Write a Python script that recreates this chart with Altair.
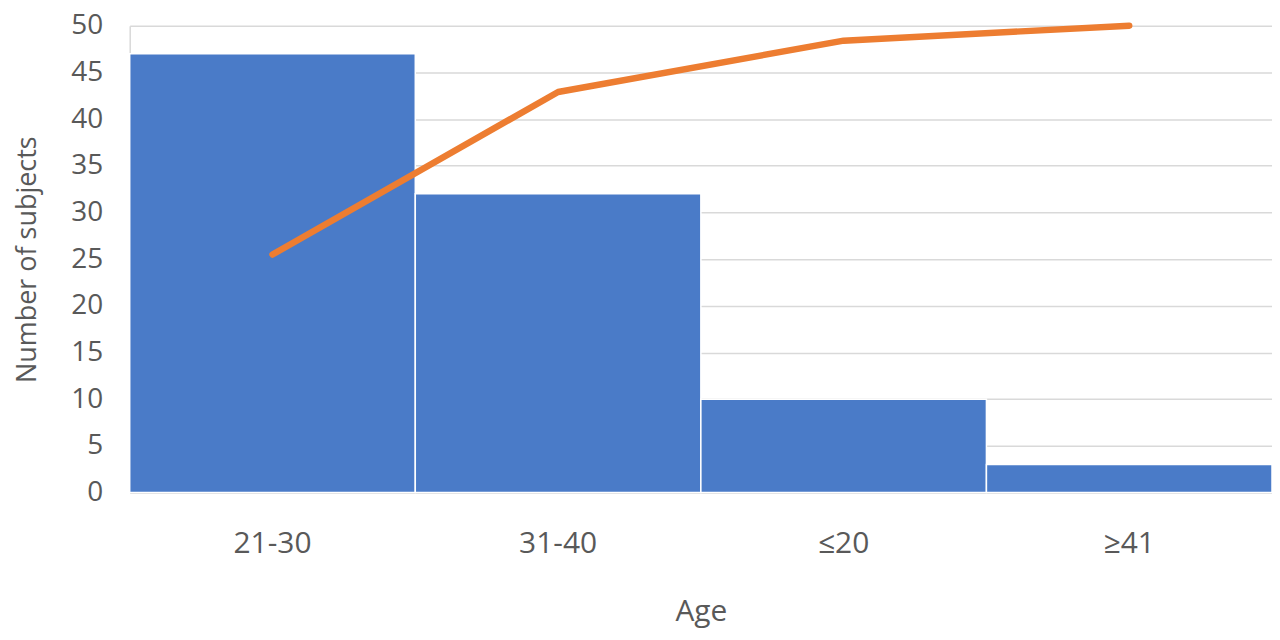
"""Pareto chart of subject age groups with cumulative line."""

import altair as alt
import pandas as pd


AGE_GROUPS = ["21-30", "31-40", "≤20", "≥41"]
SUBJECTS = [47, 32, 10, 3]
# cumulative line in the same axis units
CUMULATIVE = [25.5, 42.9, 48.4, 50.0]

BAR_COLOR = "#4a7bc8"
LINE_COLOR = "#ed7d31"
TEXT_COLOR = "#595959"
FONT = "Open Sans"

data = pd.DataFrame(
    {"age": AGE_GROUPS, "subjects": SUBJECTS, "cumulative": CUMULATIVE}
)

x = alt.X(
    "age:N",
    sort=AGE_GROUPS,
    title="Age",
    scale=alt.Scale(paddingInner=0, paddingOuter=0),
    axis=alt.Axis(
        labelAngle=0,
        labelFontSize=30,
        labelColor=TEXT_COLOR,
        labelFont=FONT,
        labelPadding=51,
        labelBaseline="middle",
        ticks=False,
        domain=True,
        domainColor="#d9d9d9",
        domainWidth=1.5,
        titleFontSize=30,
        titleFont=FONT,
        titleFontWeight="normal",
        titleColor=TEXT_COLOR,
        titleY=119,
        titleBaseline="middle",
    ),
)
y_axis = alt.Axis(
    values=[0, 5, 10, 15, 20, 25, 30, 35, 40, 45, 50],
    labelFontSize=28,
    labelColor=TEXT_COLOR,
    labelFont=FONT,
    labelPadding=27,
    ticks=False,
    domain=True,
    domainColor="#d9d9d9",
    domainWidth=1.5,
    gridColor="#d9d9d9",
    gridWidth=1.5,
    titleFontSize=27,
    titleFont=FONT,
    titleFontWeight="normal",
    titleColor=TEXT_COLOR,
    titleX=-102,
    titleY=234,
    titleAngle=-90,
    titleAlign="center",
    titleBaseline="middle",
)

bars = alt.Chart(data).mark_bar(
    color=BAR_COLOR, stroke="white", strokeWidth=1.5
).encode(
    x=x,
    y=alt.Y(
        "subjects:Q",
        title="Number of subjects",
        scale=alt.Scale(domain=[0, 50], nice=False),
        axis=y_axis,
    ),
)

line = alt.Chart(data).mark_line(
    color=LINE_COLOR, strokeWidth=6.5, strokeCap="round", strokeJoin="round"
).encode(
    x=alt.X("age:N", sort=AGE_GROUPS),
    y=alt.Y("cumulative:Q"),
)

chart = (
    (bars + line)
    .properties(
        width=1145,
        height=468,
        autosize=alt.AutoSizeParams(type="none"),
        padding={"left": 122, "top": 17, "right": 0, "bottom": 140},
    )
    .configure_view(stroke=None)
)

chart.save("out.html", embed_options={"renderer": "svg", "actions": False})
